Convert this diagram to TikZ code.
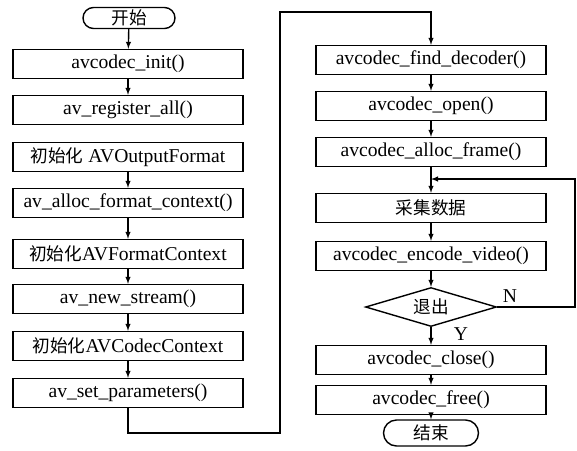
\documentclass[tikz,border=0pt]{standalone}
\usepackage{fontspec}
\setmainfont{Liberation Serif}
\newfontfamily\cjk[Scale=0.9]{Noto Sans CJK SC}
\usepackage{tikz}
\usetikzlibrary{shapes.geometric,shapes.misc,arrows,positioning}

\begin{document}
\begin{tikzpicture}[x=1pt, y=-1pt, line width=1.4pt, font=\fontsize{19.6}{22}\selectfont]
   \useasboundingbox (0,0) rectangle (577,450);
   \node[rounded rectangle, draw, minimum width=92pt, minimum height=21pt, inner sep=0pt] (st) at (129,18) {\cjk 开始};
   \node[rounded rectangle, draw, minimum width=95pt, minimum height=26pt, inner sep=0pt] (en) at (431,433) {\cjk 结束};
   \node[diamond, draw, aspect=3.4, minimum width=131pt, minimum height=39pt, inner sep=0pt] (d) at (431,307) {\cjk 退出};
   \node (ln) at (510,296) {N};
   \node (ly) at (461,334) {Y};
   \begin{scope}[every node/.style={rectangle,draw,minimum width=230pt,minimum height=29pt,inner sep=0pt}]
    \node (v1) at (128,64) {avcodec\_init()};
    \node (v2) at (128,110) {av\_register\_all()};
    \node (v3) at (128,157) {{\cjk 初始化} AVOutputFormat};
    \node (v4) at (128,203) {av\_alloc\_format\_context()};
    \node (v5) at (128,254) {{\cjk 初始化}AVFormatContext};
    \node (v6) at (128,299) {av\_new\_stream()};
    \node (v7) at (128,346) {{\cjk 初始化}AVCodecContext};
    \node (v8) at (128,393) {av\_set\_parameters()};
    \node (r1) at (431,60) {avcodec\_find\_decoder()};
    \node (r2) at (431,106) {avcodec\_open()};
    \node (r3) at (431,152) {avcodec\_alloc\_frame()};
    \node (r4) at (431,208) {{\cjk 采集数据}};
    \node (r5) at (431,256) {avcodec\_encode\_video()};
    \node (r6) at (431,360) {avcodec\_close()};
    \node (r7) at (431,400) {avcodec\_free()};
   \end{scope}
   \coordinate (c1) at (280,433);
   \coordinate (c2) at (280,12);
   \coordinate (c3) at (575,179);
   \coordinate (j) at (431,179);
   \begin{scope}[every edge/.style={draw,-latex,line width=1.4pt}]
    \draw (st) edge (v1);
    \draw (v1) edge (v2);
    \draw (v3) edge (v4);
    \draw (v4) edge (v5);
    \draw (v5) edge (v6);
    \draw (v6) edge (v7);
    \draw (v7) edge (v8);
    \draw (r1) edge (r2);
    \draw (r2) edge (r3);
    \draw (r3) edge (r4);
    \draw (r4) edge (r5);
    \draw (r5) edge (d);
    \draw (d) edge (r6);
    \draw (r6) edge (r7);
    \draw (r7) edge (en);
   \end{scope}
   \draw[-latex] (v8) |- (c1) -- (c2) -| (r1);
   \draw[-latex] (d.east) -| (c3) -- (j);
\end{tikzpicture}
\end{document}
